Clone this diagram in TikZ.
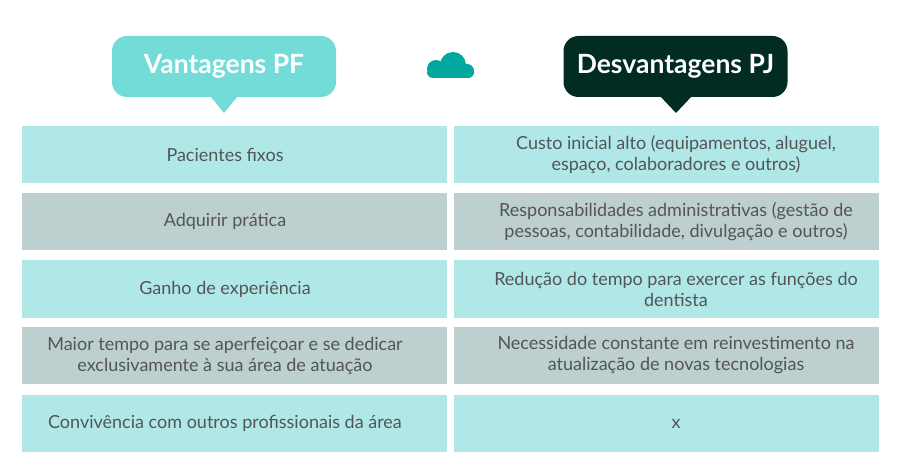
\documentclass[tikz,border=0pt]{standalone}
\usepackage{fontspec}
\setmainfont{Lato}
\definecolor{bubA}{HTML}{74DCD8}
\definecolor{bubB}{HTML}{022B22}
\definecolor{rowC}{HTML}{B0E8E8}
\definecolor{rowG}{HTML}{BDCFCE}
\definecolor{cloudc}{HTML}{00A89D}
\definecolor{txt}{HTML}{535557}
\begin{document}
\begin{tikzpicture}[x=1pt,y=-1pt,
  cell/.style={minimum width=425pt,minimum height=57pt,inner sep=0pt},
  cyan/.style={cell,fill=rowC},
  gray/.style={cell,fill=rowG},
  label/.style={align=center,text=txt,inner sep=0pt,font=\fontsize{18}{21}\selectfont},
  bubble/.style={minimum width=224pt,minimum height=61pt,rounded corners=15pt,inner sep=0pt,text=white,font=\bfseries\fontsize{26.5}{30}\selectfont}]
\useasboundingbox[fill=white] (0,0) rectangle (900,473);
% bubbles
\node[bubble,fill=bubA] (bl) at (224,66.5) {Vantagens PF};
\fill[bubA] (210,96) -- (238,96) -- (224,113) -- cycle;
\node[bubble,fill=bubB] (br) at (675.5,66.5) {Desvantagens PJ};
\fill[bubB] (660,96) -- (692,96) -- (676,113) -- cycle;
% cloud
\begin{scope}[fill=cloudc]
\fill[rounded corners=6pt] (427,68) rectangle (474,78);
\fill (436,69) circle[radius=9];
\fill (467,71) circle[radius=7];
\fill (453,65) circle[radius=13];
\end{scope}
% cells
\node[cyan] (l1) at (234.5,154.5) {};
\node[gray] (l2) at (234.5,221.5) {};
\node[cyan] (l3) at (234.5,289) {};
\node[gray] (l4) at (234.5,355.5) {};
\node[cyan] (l5) at (234.5,423.5) {};
\node[cyan] (r1) at (666.5,154.5) {};
\node[gray] (r2) at (666.5,221.5) {};
\node[cyan] (r3) at (666.5,289) {};
\node[gray] (r4) at (666.5,355.5) {};
\node[cyan] (r5) at (666.5,423.5) {};
% texts
\node[label] (tl1) at (225,154.5) {Pacientes fixos};
\node[label] (tl2) at (225,221.5) {Adquirir prática};
\node[label] (tl3) at (225,289) {Ganho de experiência};
\node[label] (tl4) at (225,355.5) {Maior tempo para se aperfeiçoar e se dedicar\\exclusivamente à sua área de atuação};
\node[label] (tl5) at (225,423.5) {Convivência com outros profissionais da área};
\node[label] (tr1) at (676,154.5) {Custo inicial alto (equipamentos, aluguel,\\espaço, colaboradores e outros)};
\node[label] (tr2) at (676,221.5) {Responsabilidades administrativas (gestão de\\pessoas, contabilidade, divulgação e outros)};
\node[label] (tr3) at (676,289) {Redução do tempo para exercer as funções do\\dentista};
\node[label] (tr4) at (676,355.5) {Necessidade constante em reinvestimento na\\atualização de novas tecnologias};
\node[label] (tr5) at (676,423.5) {x};
\end{tikzpicture}
\end{document}
